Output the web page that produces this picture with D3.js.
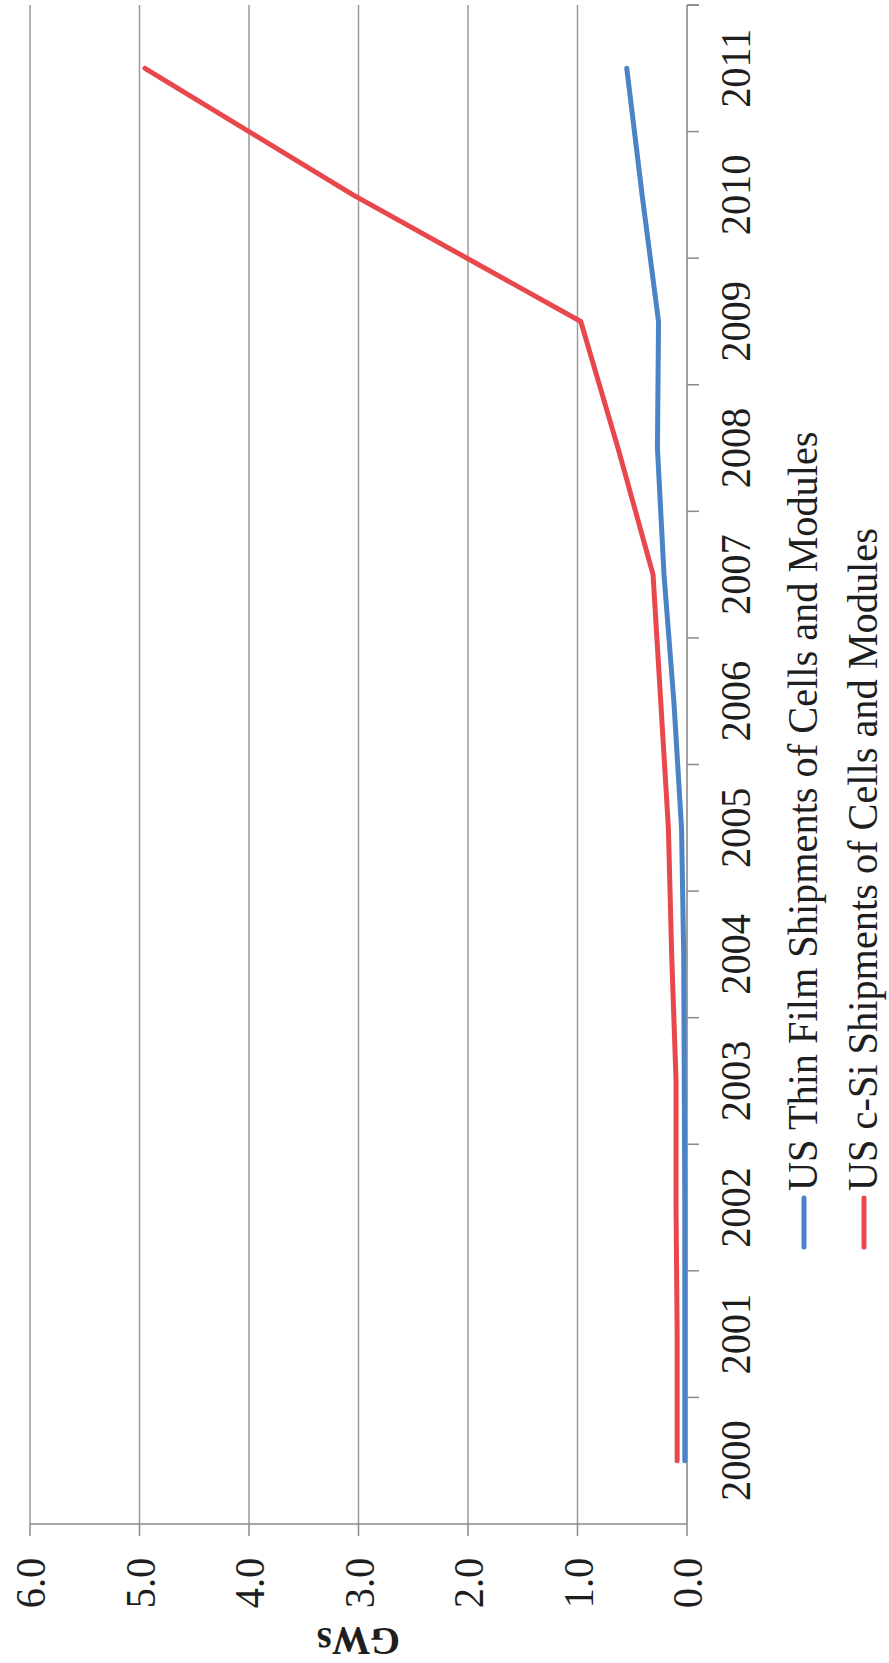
<!DOCTYPE html>
<html>
<head>
    <title>US PV Shipments</title>
    <script src="https://d3js.org/d3.v7.min.js"></script>
    <style>
        body {
            margin: 0;
            padding: 0;
            background-color: #ffffff;
        }
        text {
            font-family: "Liberation Serif", "Times New Roman", serif;
            fill: #1e1e1e;
        }
    </style>
</head>
<body>
<div class="viz"></div>
<script>

    // data
    var years = ["2000","2001","2002","2003","2004","2005","2006","2007","2008","2009","2010","2011"];
    var thinFilm = [0.02, 0.02, 0.02, 0.025, 0.03, 0.05, 0.12, 0.21, 0.27, 0.26, 0.41, 0.55];
    var cSi = [0.09, 0.09, 0.10, 0.10, 0.14, 0.17, 0.24, 0.31, 0.63, 0.97, 3.05, 4.95];
    var valueTicks = [0, 1, 2, 3, 4, 5, 6];
    var seriesNames = ["US Thin Film Shipments of Cells and Modules", "US c-Si Shipments of Cells and Modules"];
    var seriesColors = ["#4a84c6", "#e8474c"];

    var width = 889,
        height = 1663;

    var svg = d3.select(".viz").append("svg")
        .attr("width", width)
        .attr("height", height);

    // the chart is turned a quarter: values run right to left, years bottom to top
    var xScale = d3.scaleLinear()
        .domain([0, 6])
        .range([687, 30]);

    var yScale = d3.scaleBand()
        .domain(years)
        .range([1524, 5]);

    var axisTop = 5,
        axisBottom = 1524,
        axisX = xScale(0);

    // scanned type is a touch narrower than the font
    var squeeze = " scale(0.96,1)";

    // gridlines
    svg.selectAll(".grid")
        .data(valueTicks.slice(1))
        .enter()
        .append("line")
        .attr("class", "grid")
        .attr("x1", function(d){ return xScale(d); })
        .attr("x2", function(d){ return xScale(d); })
        .attr("y1", axisTop)
        .attr("y2", axisBottom)
        .attr("stroke", "#9b9b9b")
        .attr("stroke-width", 1.5);

    // value axis (bottom)
    svg.append("line")
        .attr("x1", xScale(6))
        .attr("x2", axisX)
        .attr("y1", axisBottom)
        .attr("y2", axisBottom)
        .attr("stroke", "#8a8a8a")
        .attr("stroke-width", 1.6);

    svg.selectAll(".vtick")
        .data(valueTicks)
        .enter()
        .append("line")
        .attr("class", "vtick")
        .attr("x1", function(d){ return xScale(d); })
        .attr("x2", function(d){ return xScale(d); })
        .attr("y1", axisBottom)
        .attr("y2", axisBottom + 12)
        .attr("stroke", "#8a8a8a")
        .attr("stroke-width", 1.5);

    svg.selectAll(".vlabel")
        .data(valueTicks)
        .enter()
        .append("text")
        .attr("class", "vlabel")
        .attr("text-anchor", "middle")
        .attr("transform", function(d){
            return "translate(" + (xScale(d) + 15) + ",1583) rotate(-90)" + squeeze;
        })
        .style("font-size", "42px")
        .text(function(d){ return d3.format(".1f")(d); });

    // category axis (right)
    svg.append("line")
        .attr("x1", axisX)
        .attr("x2", axisX)
        .attr("y1", axisTop)
        .attr("y2", axisBottom)
        .attr("stroke", "#8a8a8a")
        .attr("stroke-width", 1.6);

    var boundaries = years.map(function(d){ return yScale(d); });
    boundaries.push(axisTop);

    svg.selectAll(".ctick")
        .data(boundaries)
        .enter()
        .append("line")
        .attr("class", "ctick")
        .attr("x1", axisX)
        .attr("x2", axisX + 12)
        .attr("y1", function(d){ return d; })
        .attr("y2", function(d){ return d; })
        .attr("stroke", "#8a8a8a")
        .attr("stroke-width", 1.5);

    svg.selectAll(".ylabel")
        .data(years)
        .enter()
        .append("text")
        .attr("class", "ylabel")
        .attr("text-anchor", "middle")
        .attr("transform", function(d){
            var cy = yScale(d) + yScale.bandwidth() / 2;
            return "translate(750," + cy + ") rotate(-90)" + squeeze;
        })
        .style("font-size", "42px")
        .text(function(d){ return d; });

    // axis title, upside down
    svg.append("text")
        .attr("text-anchor", "middle")
        .attr("transform", "translate(" + xScale(3) + ",1628) rotate(180)" + squeeze)
        .style("font-size", "40px")
        .style("font-weight", "bold")
        .text("GWs");

    // lines
    var line = d3.line()
        .x(function(d){ return xScale(d.v); })
        .y(function(d){ return yScale(d.year) + yScale.bandwidth() / 2; });

    var series = [thinFilm, cSi].map(function(vals){
        return vals.map(function(v, i){ return {year: years[i], v: v}; });
    });

    svg.selectAll(".series")
        .data(series)
        .enter()
        .append("path")
        .attr("class", "series")
        .attr("d", line)
        .attr("fill", "none")
        .attr("stroke", function(d, i){ return seriesColors[i]; })
        .attr("stroke-width", 5)
        .attr("stroke-linejoin", "round")
        .attr("stroke-linecap", "round");

    // legend
    var legendX = [817, 877];

    seriesNames.forEach(function(name, i){
        svg.append("line")
            .attr("x1", legendX[i] - 13)
            .attr("x2", legendX[i] - 13)
            .attr("y1", 1198)
            .attr("y2", 1247)
            .attr("stroke", seriesColors[i])
            .attr("stroke-width", 5)
            .attr("stroke-linecap", "round");

        svg.append("text")
            .attr("transform", "translate(" + legendX[i] + ",1191) rotate(-90)" + squeeze)
            .style("font-size", "42px")
            .text(name);
    });

</script>
</body>
</html>
